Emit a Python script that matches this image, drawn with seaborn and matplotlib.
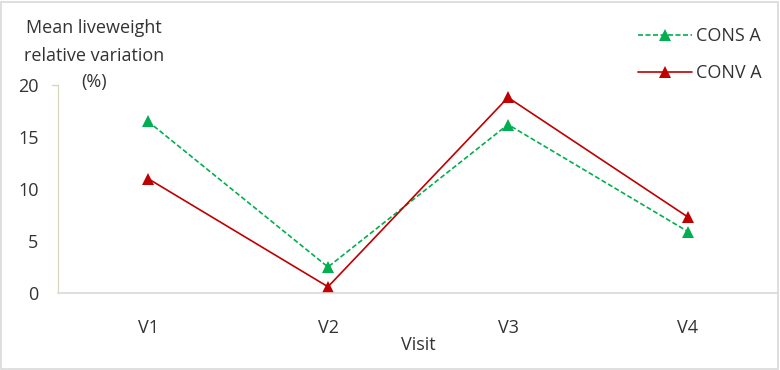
import pandas as pd
import numpy as np
import matplotlib.pyplot as plt
import seaborn as sns
from matplotlib.patches import Rectangle

# 資料
visits = ['V1', 'V2', 'V3', 'V4']
cons_a = [16.5, 2.5, 16.2, 5.9]
conv_a = [11.0, 0.6, 18.8, 7.3]

df = pd.DataFrame({
    'Visit': visits * 2,
    'value': cons_a + conv_a,
    'group': ['CONS A'] * 4 + ['CONV A'] * 4,
})

sns.set_style('white')
plt.rcParams['font.family'] = ['Open Sans', 'DejaVu Sans']

fig = plt.figure(figsize=(7.8, 3.7), dpi=100)
ax = fig.add_axes([58 / 780, 77 / 370, 720 / 780, 208 / 370])

palette = {'CONS A': '#00B050', 'CONV A': '#C00000'}
sns.lineplot(data=df, x='Visit', y='value', hue='group', style='group',
             dashes={'CONS A': (3, 1.5), 'CONV A': ''}, markers={'CONS A': '^', 'CONV A': '^'},
             palette=palette, markersize=9, markeredgewidth=0, linewidth=1.2,
             sort=False, ax=ax)

ax.set_xlim(-0.5, 3.5)
ax.set_ylim(0, 20)
ax.set_yticks([0, 5, 10, 15, 20])
ax.tick_params(axis='both', labelsize=13, colors='#333333', length=0)
ax.tick_params(axis='y', pad=14)
ax.tick_params(axis='x', pad=19)
ax.set_xlabel('Visit', fontsize=13, color='#333333', labelpad=-1)
ax.set_ylabel('')

for s in ['top', 'right']:
    ax.spines[s].set_visible(False)
ax.spines['left'].set_color('#D8D5BE')
ax.spines['bottom'].set_color('#D9D9D9')
ax.spines['bottom'].set_linewidth(1.2)
# 20 的小刻度
ax.plot([-0.535, -0.5], [20, 20], color='#D8D5BE', lw=1, clip_on=False)

# Y 軸標題（三行，分開放避免與刻度重疊）
ylabel_lines = ['Mean liveweight', 'relative variation', '(%)']
for line, ypix in zip(ylabel_lines, [28, 56, 82]):
    fig.text(94 / 780, 1 - ypix / 370, line, ha='center', va='center', fontsize=13, color='#333333')

leg = ax.legend(loc='upper left', bbox_to_anchor=(622 / 780, 1 - 11 / 370), bbox_transform=fig.transFigure,
                frameon=False, fontsize=13, handlelength=3.0, labelspacing=1.05, handletextpad=0.2)
for t in leg.get_texts():
    t.set_color('#333333')

# 外框
fig.patches.append(Rectangle((1 / 780, 1 / 370), 777 / 780, 367 / 370, transform=fig.transFigure,
                             fill=False, edgecolor='#D9D9D9', lw=1.2))

plt.savefig('out.png', dpi=100)
